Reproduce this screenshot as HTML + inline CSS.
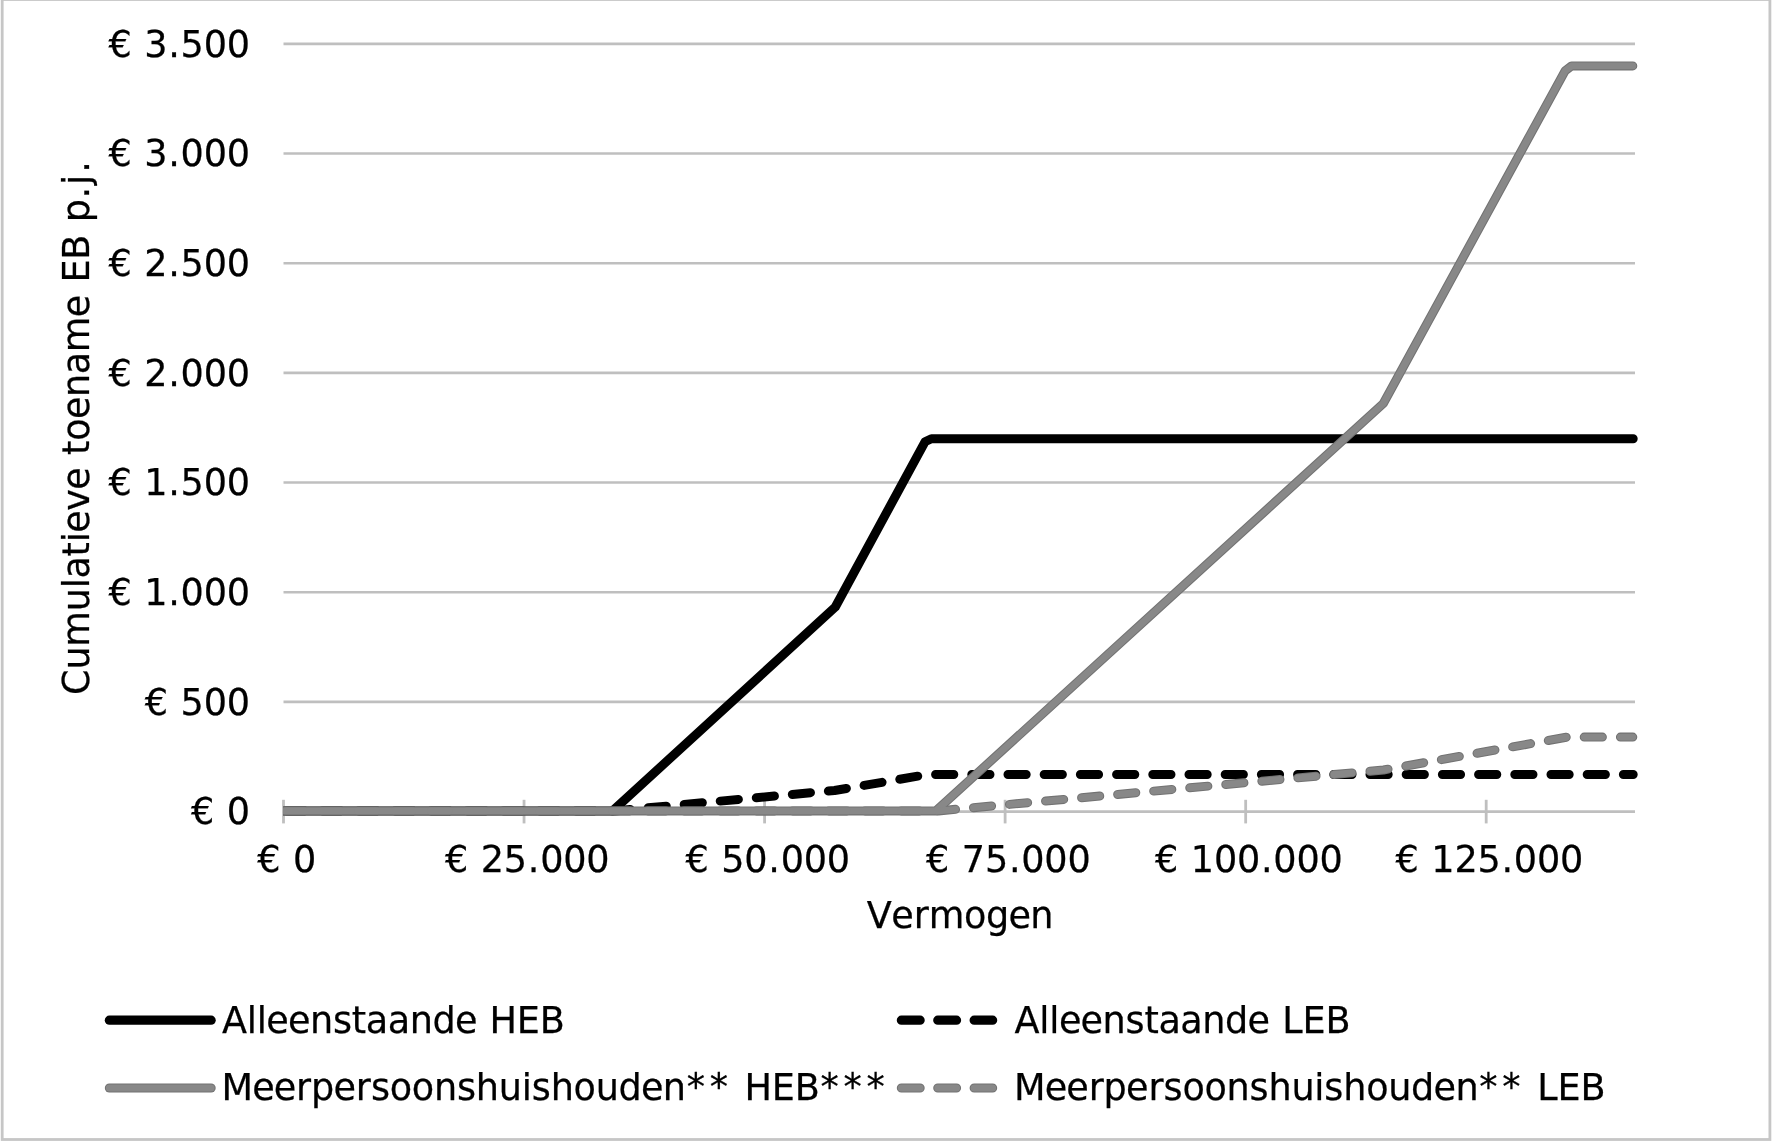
<!DOCTYPE html>
<html lang="nl">
<head>
<meta charset="utf-8">
<title>Cumulatieve toename EB p.j.</title>
<style>
html,body{margin:0;padding:0;background:#fff;}
body{width:1772px;height:1142px;overflow:hidden;position:relative;}
svg{position:absolute;left:0;top:0;display:block;will-change:transform;}
text{font-family:"DejaVu Sans","Verdana","Liberation Sans",sans-serif;font-size:36.6px;fill:#000;stroke:#000;stroke-width:0.25px;}
</style>
</head>
<body>
<svg width="1772" height="1142" viewBox="0 0 1772 1142">
<defs>
<clipPath id="plot"><rect x="283.2" y="0" width="1500" height="1142"/></clipPath>
</defs>
<rect x="2.2" y="-0.5" width="1767.7" height="1140" fill="none" stroke="#c6c6c6" stroke-width="2.8"/>

<g stroke="#bfbfbf" stroke-width="2.6" fill="none">
<line x1="283.5" y1="43.9" x2="1635" y2="43.9"/>
<line x1="283.5" y1="153.56" x2="1635" y2="153.56"/>
<line x1="283.5" y1="263.22" x2="1635" y2="263.22"/>
<line x1="283.5" y1="372.88" x2="1635" y2="372.88"/>
<line x1="283.5" y1="482.54" x2="1635" y2="482.54"/>
<line x1="283.5" y1="592.2" x2="1635" y2="592.2"/>
<line x1="283.5" y1="701.86" x2="1635" y2="701.86"/>
<line x1="282.2" y1="811.6" x2="1635" y2="811.6"/>
</g>
<g stroke="#bfbfbf" stroke-width="2.8" fill="none">
<line x1="283.5" y1="799.8" x2="283.5" y2="823.4"/>
<line x1="524.04" y1="799.8" x2="524.04" y2="823.4"/>
<line x1="764.58" y1="799.8" x2="764.58" y2="823.4"/>
<line x1="1005.12" y1="799.8" x2="1005.12" y2="823.4"/>
<line x1="1245.66" y1="799.8" x2="1245.66" y2="823.4"/>
<line x1="1486.2" y1="799.8" x2="1486.2" y2="823.4"/>
</g>
<g clip-path="url(#plot)" fill="none" stroke-linejoin="round" stroke-linecap="round">
<path d="M283.3 810.9 L612.6 810.9 L835.3 607 L925 441.8 L931.4 438.75 L1633.2 438.75" stroke="#000" stroke-width="9.0"/>
<path d="M283.3 810.9 L615 810.9 L834.5 790.5 L927.5 774.5 L1633.2 774.5" stroke="#000" stroke-width="9.0" stroke-dasharray="18.2 18" stroke-dashoffset="-3"/>
<path d="M283.3 810.9 L938.5 810.9 L1383.5 770 L1567 737.1 L1632.8 737.1" stroke="#727272" stroke-width="9.0" stroke-dasharray="18.2 18" stroke-dashoffset="-2.5"/>
<path d="M283.3 810.9 L935.9 810.9 L1383.3 403.5 L1565.1 70.8 L1571.6 65.9 L1632.8 65.9" stroke="#727272" stroke-width="9.0"/>
<path d="M283.3 810.9 L935.9 810.9 L1383.3 403.5 L1565.1 70.8 L1571.6 65.9 L1632.8 65.9" stroke="#888" stroke-width="6.9"/>
<path d="M283.3 810.9 L938.5 810.9 L1383.5 770 L1567 737.1 L1632.8 737.1" stroke="#888" stroke-width="6.9" stroke-dasharray="18.2 18" stroke-dashoffset="-2.5"/>
</g>
<text x="108.46 132.22 144.32 168.3 180.62 203.71 226.81" y="56.7">€ 3.500</text>
<text x="108.46 132.22 144.32 168.3 180.62 203.71 226.81" y="166.36">€ 3.000</text>
<text x="108.46 132.22 144.32 168.3 180.62 203.71 226.81" y="276.02">€ 2.500</text>
<text x="108.46 132.22 144.32 168.3 180.62 203.71 226.81" y="385.68">€ 2.000</text>
<text x="108.46 132.22 144.32 168.3 180.62 203.71 226.81" y="495.34">€ 1.500</text>
<text x="108.46 132.22 144.32 168.3 180.62 203.71 226.81" y="605">€ 1.000</text>
<text x="144.76 168.52 180.62 203.71 226.81" y="714.66">€ 500</text>
<text x="190.95 214.71 226.81" y="824.32">€ 0</text>
<text x="257.13 280.88 292.99" y="871.8">€ 0</text>
<text x="444.88 468.63 480.73 503.83 527.8 540.13 563.22 586.32" y="871.8">€ 25.000</text>
<text x="685.42 709.17 721.27 744.37 768.34 780.67 803.76 826.86" y="871.8">€ 50.000</text>
<text x="925.96 949.71 961.81 984.91 1008.88 1021.21 1044.3 1067.4" y="871.8">€ 75.000</text>
<text x="1154.95 1178.7 1190.81 1213.9 1237 1260.97 1273.3 1296.39 1319.49" y="871.8">€ 100.000</text>
<text x="1395.49 1419.24 1431.35 1454.44 1477.54 1501.51 1513.84 1536.93 1560.03" y="871.8">€ 125.000</text>
<text x="866.85 891.34 913.63 928.73 964.03 985.93 1008.41 1030.37" y="928.4">Vermogen</text>
<text transform="rotate(-90)" x="-694.9 -669.57 -646.66 -611.29 -588.31 -578.57 -556.48 -542.26 -532.64 -510.77 -489.75 -467.11 -454.94 -440.79 -419.03 -397.07 -374.31 -352.37 -317.34 -294.71 -282.6 -259.68 -234.11 -222.22 -198.51 -184.92 -172.8" y="88.6">Cumulatieve toename EB p.j.</text>
<g fill="none" stroke-linecap="round">
<line x1="109.4" y1="1020.2" x2="211.1" y2="1020.2" stroke="#000" stroke-width="9.3"/>
<line x1="901.4" y1="1020.2" x2="992.6" y2="1020.2" stroke="#000" stroke-width="9.3" stroke-dasharray="18.7 17.7"/>
<line x1="109.4" y1="1088" x2="211.1" y2="1088" stroke="#727272" stroke-width="9.2"/>
<line x1="109.4" y1="1088" x2="211.1" y2="1088" stroke="#888" stroke-width="7.1"/>
<line x1="901.4" y1="1088" x2="992.6" y2="1088" stroke="#727272" stroke-width="9.2" stroke-dasharray="18.7 17.7"/>
<line x1="901.4" y1="1088" x2="992.6" y2="1088" stroke="#888" stroke-width="7.1" stroke-dasharray="18.7 17.7"/>
</g>
<text x="221.9 246.73 256.69 266.31 287.93 309.89 332.9 351.86 365.87 387.65 409.64 432.42 454.9 477.53 489.55 516.79 539.72" y="1032.5">Alleenstaande HEB</text>
<text x="1014.5 1039.33 1049.29 1058.91 1080.53 1102.49 1125.5 1144.46 1158.47 1180.25 1202.24 1225.02 1247.5 1270.13 1282.25 1302.46 1325.39" y="1032.5">Alleenstaande LEB</text>
<text x="221.51 252.15 273.77 296.06 311.02 333.5 355.79 370.99 389.8 411.83 433.93 456.93 475.81 498.78 521.76 531.75 550.63 573.53 595.63 618.4 640.88 662.84 686.69 709.74 732.57 744.59 771.83 794.76 820.53 843.58 866.62" y="1099.8">Meerpersoonshuishouden** HEB***</text>
<text x="1014.11 1044.75 1066.37 1088.66 1103.62 1126.1 1148.39 1163.59 1182.4 1204.43 1226.53 1249.53 1268.41 1291.38 1314.36 1324.35 1343.23 1366.13 1388.23 1411 1433.48 1455.44 1479.29 1502.34 1525.17 1537.29 1557.5 1580.43" y="1099.8">Meerpersoonshuishouden** LEB</text>
</svg>
</body>
</html>
